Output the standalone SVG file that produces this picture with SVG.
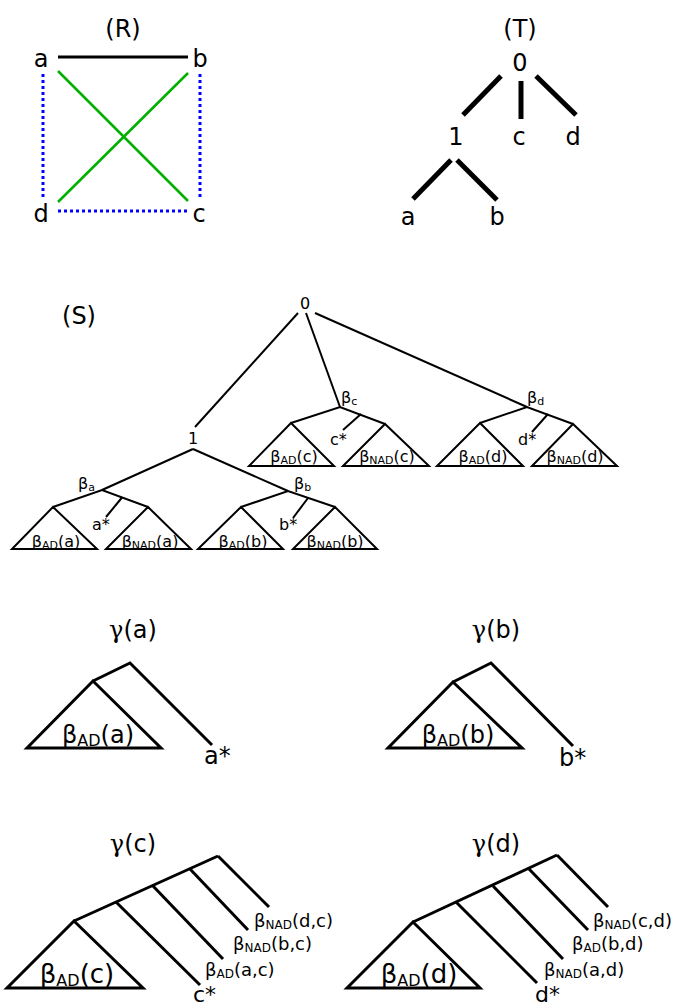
<svg xmlns="http://www.w3.org/2000/svg" width="679" height="1005" viewBox="0 0 679 1005">
<style>
text{font-family:"DejaVu Sans","Liberation Sans",sans-serif;fill:#000}
.big{font-size:24px}
.t{font-size:24px}
.h{font-size:26px}
.st{font-size:22px}
.s{font-size:16px}
.m{font-size:18px}
.mid{text-anchor:middle}
.g{font-family:"DejaVu Serif","Liberation Serif",serif}
.l2{stroke:#000;stroke-width:2;fill:none}
.l3{stroke:#000;stroke-width:3;fill:none}
.l5{stroke:#000;stroke-width:5;fill:none}
.tri2{stroke:#000;stroke-width:2;fill:none;stroke-linejoin:miter}
.tri3{stroke:#000;stroke-width:3;fill:none;stroke-linejoin:miter}
</style>
<rect width="679" height="1005" fill="#fff"/>
<g id="connectors">
<!-- R -->
<line x1="58" y1="57" x2="188" y2="57" stroke="#000" stroke-width="3"/>
<line x1="58" y1="71" x2="188" y2="201" stroke="#00b000" stroke-width="2.5"/>
<line x1="188" y1="73" x2="58" y2="202" stroke="#00b000" stroke-width="2.5"/>
<line x1="43" y1="74" x2="43" y2="197" stroke="#0000ff" stroke-width="3" stroke-dasharray="3,3"/>
<line x1="200" y1="74" x2="200" y2="197" stroke="#0000ff" stroke-width="3" stroke-dasharray="3,3"/>
<line x1="58" y1="211" x2="189" y2="211" stroke="#0000ff" stroke-width="3" stroke-dasharray="3,3"/>
<!-- T -->
<line class="l5" x1="501" y1="76" x2="463" y2="115"/>
<line class="l5" x1="521" y1="81" x2="521" y2="119"/>
<line class="l5" x1="536" y1="76" x2="576" y2="115"/>
<line class="l5" x1="451" y1="160" x2="413" y2="199"/>
<line class="l5" x1="457" y1="160" x2="497" y2="200"/>
<!-- S -->
<line class="l2" x1="298" y1="313" x2="195" y2="427"/>
<line class="l2" x1="306" y1="313" x2="340" y2="407"/>
<line class="l2" x1="315" y1="313" x2="527" y2="407"/>
<line class="l2" x1="193" y1="449" x2="102" y2="490"/>
<line class="l2" x1="193" y1="449" x2="288" y2="491"/>
<polyline class="l2" points="53,507 102,490 148,507"/>
<line class="l2" x1="122" y1="497.5" x2="106" y2="517"/>
<polyline class="l2" points="241,507 288,491 335,507"/>
<line class="l2" x1="308" y1="498" x2="293" y2="518"/>
<polyline class="l2" points="291,423 340,407 385,424"/>
<line class="l2" x1="361" y1="414" x2="343" y2="430"/>
<polyline class="l2" points="480,423 527,407 573,424"/>
<line class="l2" x1="548" y1="414" x2="532" y2="432"/>
<!-- gamma a -->
<polyline class="l3" points="93,681 130,663 212,745"/>
<!-- gamma b -->
<polyline class="l3" points="453,682 491,663 573,746"/>
<!-- gamma c -->
<line class="l3" x1="74" y1="921" x2="218" y2="856"/>
<line class="l3" x1="116" y1="902" x2="200" y2="985"/>
<line class="l3" x1="153" y1="886" x2="223" y2="959"/>
<line class="l3" x1="190" y1="869" x2="248" y2="930"/>
<line class="l3" x1="218" y1="856" x2="269" y2="907"/>
<!-- gamma d -->
<line class="l3" x1="413" y1="922" x2="557" y2="855"/>
<line class="l3" x1="456" y1="902" x2="537" y2="983"/>
<line class="l3" x1="493" y1="886" x2="563" y2="959"/>
<line class="l3" x1="529" y1="869" x2="588" y2="930"/>
<line class="l3" x1="557" y1="855" x2="608" y2="907"/>
</g>
<!-- R graph -->
<g id="R-title"><text class="big mid" x="123" y="37">(R)</text></g>
<g id="R-a"><text class="big mid" x="41" y="67">a</text></g>
<g id="R-b"><text class="big mid" x="200" y="67">b</text></g>
<g id="R-d"><text class="big mid" x="41" y="222">d</text></g>
<g id="R-c"><text class="big mid" x="199" y="222">c</text></g>
<!-- T tree -->
<g id="T-title"><text class="big mid" x="520" y="37">(T)</text></g>
<g id="T-0"><text class="big mid" x="520" y="71">0</text></g>
<g id="T-1"><text class="big mid" x="456" y="145">1</text></g>
<g id="T-c"><text class="big mid" x="519" y="145">c</text></g>
<g id="T-d"><text class="big mid" x="573" y="145">d</text></g>
<g id="T-a"><text class="big mid" x="408" y="225">a</text></g>
<g id="T-b"><text class="big mid" x="497" y="225">b</text></g>
<!-- S tree -->
<g id="S-title"><text class="big mid" x="79" y="324">(S)</text></g>
<g id="S-0"><text class="s mid" x="305" y="309">0</text></g>
<g id="S-1"><text class="s mid" x="193" y="444">1</text></g>
<g id="S-beta-a"><text class="s" x="78" y="489">β<tspan font-size="11" dy="2">a</tspan></text></g>
<g id="S-beta-b"><text class="s" x="294" y="489">β<tspan font-size="11" dy="2">b</tspan></text></g>
<g id="S-beta-c"><text class="s" x="341" y="403">β<tspan font-size="11" dy="2">c</tspan></text></g>
<g id="S-beta-d"><text class="s" x="527" y="403">β<tspan font-size="11" dy="2">d</tspan></text></g>
<g id="S-ad-a"><polygon class="tri2" points="53,507 12,549 97,549"/><text class="s mid" x="56" y="547">β<tspan font-size="11" dy="2">AD</tspan><tspan dy="-2">(a)</tspan></text></g>
<g id="S-nad-a"><polygon class="tri2" points="148,507 106,549 191,549"/><text class="s mid" x="150" y="547">β<tspan font-size="11" dy="2">NAD</tspan><tspan dy="-2">(a)</tspan></text></g>
<g id="S-astar"><text class="s" x="92" y="530">a*</text></g>
<g id="S-ad-b"><polygon class="tri2" points="241,507 198,549 283,549"/><text class="s mid" x="243" y="547">β<tspan font-size="11" dy="2">AD</tspan><tspan dy="-2">(b)</tspan></text></g>
<g id="S-nad-b"><polygon class="tri2" points="335,507 293,549 377,549"/><text class="s mid" x="335" y="547">β<tspan font-size="11" dy="2">NAD</tspan><tspan dy="-2">(b)</tspan></text></g>
<g id="S-bstar"><text class="s" x="279" y="530">b*</text></g>
<g id="S-ad-c"><polygon class="tri2" points="291,423 249,466 334,466"/><text class="s mid" x="294" y="462">β<tspan font-size="11" dy="2">AD</tspan><tspan dy="-2">(c)</tspan></text></g>
<g id="S-nad-c"><polygon class="tri2" points="385,424 343,466 429,466"/><text class="s mid" x="387" y="462">β<tspan font-size="11" dy="2">NAD</tspan><tspan dy="-2">(c)</tspan></text></g>
<g id="S-cstar"><text class="s" x="330" y="445">c*</text></g>
<g id="S-ad-d"><polygon class="tri2" points="480,423 437,466 523,466"/><text class="s mid" x="483" y="462">β<tspan font-size="11" dy="2">AD</tspan><tspan dy="-2">(d)</tspan></text></g>
<g id="S-nad-d"><polygon class="tri2" points="573,424 532,466 617,466"/><text class="s mid" x="575" y="462">β<tspan font-size="11" dy="2">NAD</tspan><tspan dy="-2">(d)</tspan></text></g>
<g id="S-dstar"><text class="s" x="518" y="445">d*</text></g>
<!-- gamma(a) -->
<g id="gamma-a-title"><text class="t mid" x="133" y="638"><tspan class="g">γ</tspan>(a)</text></g>
<g id="gamma-a-ad"><polygon class="tri3" points="93,681 27,748 161,748"/><text class="t mid" x="98" y="743">β<tspan font-size="16" dy="3">AD</tspan><tspan dy="-3">(a)</tspan></text></g>
<g id="gamma-a-star"><text class="t" x="204" y="764">a*</text></g>
<!-- gamma(b) -->
<g id="gamma-b-title"><text class="t mid" x="496" y="638"><tspan class="g">γ</tspan>(b)</text></g>
<g id="gamma-b-ad"><polygon class="tri3" points="453,682 388,748 522,748"/><text class="t mid" x="458" y="743">β<tspan font-size="16" dy="3">AD</tspan><tspan dy="-3">(b)</tspan></text></g>
<g id="gamma-b-star"><text class="t" x="559" y="766">b*</text></g>
<!-- gamma(c) -->
<g id="gamma-c-title"><text class="t mid" x="133" y="852"><tspan class="g">γ</tspan>(c)</text></g>
<g id="gamma-c-ad"><polygon class="tri3" points="74,921 7,988 143,988"/><text class="h mid" x="77" y="983">β<tspan font-size="16" dy="3">AD</tspan><tspan dy="-3">(c)</tspan></text></g>
<g id="gamma-c-star"><text class="st" x="193" y="1002">c*</text></g>
<g id="gamma-c-ac"><text class="m" x="205" y="976">β<tspan font-size="12" dy="2">AD</tspan><tspan dy="-2">(a,c)</tspan></text></g>
<g id="gamma-c-bc"><text class="m" x="233" y="950">β<tspan font-size="12" dy="2">NAD</tspan><tspan dy="-2">(b,c)</tspan></text></g>
<g id="gamma-c-dc"><text class="m" x="254" y="927">β<tspan font-size="12" dy="2">NAD</tspan><tspan dy="-2">(d,c)</tspan></text></g>
<!-- gamma(d) -->
<g id="gamma-d-title"><text class="t mid" x="496" y="852"><tspan class="g">γ</tspan>(d)</text></g>
<g id="gamma-d-ad"><polygon class="tri3" points="413,922 347,988 480,988"/><text class="h mid" x="419" y="983">β<tspan font-size="16" dy="3">AD</tspan><tspan dy="-3">(d)</tspan></text></g>
<g id="gamma-d-star"><text class="st" x="535" y="1002">d*</text></g>
<g id="gamma-d-ad2"><text class="m" x="544" y="976">β<tspan font-size="12" dy="2">NAD</tspan><tspan dy="-2">(a,d)</tspan></text></g>
<g id="gamma-d-bd"><text class="m" x="572" y="950">β<tspan font-size="12" dy="2">AD</tspan><tspan dy="-2">(b,d)</tspan></text></g>
<g id="gamma-d-cd"><text class="m" x="593" y="927">β<tspan font-size="12" dy="2">NAD</tspan><tspan dy="-2">(c,d)</tspan></text></g>
</svg>
